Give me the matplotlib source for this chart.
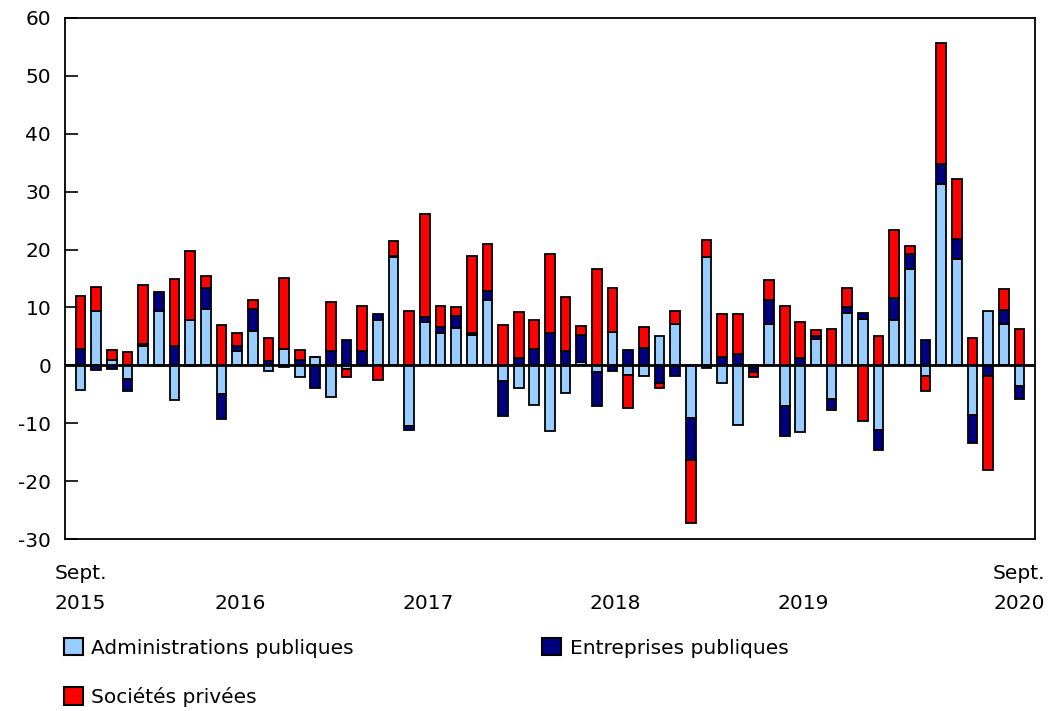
import numpy as np
import matplotlib
matplotlib.use("Agg")
import matplotlib.pyplot as plt
from matplotlib.patches import Patch

# Valeurs mensuelles, sept. 2015 à sept. 2020
admin = [-4.3, 9.4, 1.0, -2.3, 3.3, 9.4, -6.0, 7.9, 9.7, -5.0,
         2.5, 6.0, -0.9, 2.9, -2.0, 1.5, -5.5, -0.7, 0.0, 7.9,
         18.7, -10.5, 7.4, 5.5, 6.4, 5.3, 11.3, -2.7, -3.9, -6.9,
         -11.3, -4.7, 0.5, -1.2, 5.8, -1.6, -1.8, 5.1, 7.2, -9.1,
         18.7, -3.1, -10.3, -0.4, 7.2, -7.0, -11.6, 4.5, -5.9, 9.1,
         8.0, -11.1, 7.8, 16.7, -1.9, 31.4, 18.3, -8.5, 9.3, 7.2,
         -3.6]
entreprises = [2.9, -0.8, -0.6, -2.2, 0.4, 3.2, 3.3, -0.2, 3.7, -4.3,
               0.9, 3.8, 0.7, -0.3, 1.0, -3.9, 2.4, 4.4, 2.4, 0.9,
               0.2, -0.7, 0.9, 1.1, 2.1, 0.3, 1.5, -6.0, 1.2, 2.9,
               5.5, 2.4, 4.8, -5.9, -1.0, 2.6, 3.0, -3.0, -1.8, -7.2,
               -0.5, 1.4, 2.0, -0.8, 4.0, -5.2, 1.2, 0.6, -1.9, 0.9,
               1.0, -3.6, 3.8, 2.6, 4.4, 3.3, 3.5, -4.9, -1.8, 2.3,
               -2.2]
privees = [9.0, 4.2, 1.6, 2.3, 10.1, -0.1, 11.6, 11.9, 2.0, 7.0,
           2.2, 1.4, 4.0, 12.2, 1.6, 0.0, 8.5, -1.4, 7.8, -2.6,
           2.5, 9.3, 17.9, 3.7, 1.5, 13.3, 8.2, 7.0, 8.0, 5.0,
           13.7, 9.4, 1.5, 16.7, 7.5, -5.7, 3.7, -1.0, 2.1, -10.9,
           2.9, 7.5, 6.9, -0.8, 3.5, 10.2, 6.3, 1.0, 6.3, 3.4,
           -9.7, 5.1, 11.7, 1.4, -2.6, 21.0, 10.4, 4.8, -16.3, 3.7,
           6.3]

series = [("Administrations publiques", admin, "#99ccff"),
          ("Entreprises publiques", entreprises, "#000080"),
          ("Sociétés privées", privees, "#ff0000")]

x_labels = ["Sept.\n2015", "\n2016", "\n2017", "\n2018", "\n2019", "Sept.\n2020"]
x_label_pos = [0, 10.2, 22.2, 34.2, 46.2, 60]

plt.rcParams["font.family"] = "DejaVu Sans"
plt.rcParams["axes.unicode_minus"] = False

fig = plt.figure(figsize=(10.48, 7.11), dpi=100)
ax = fig.add_axes([0.062, 0.2419, 0.9256, 0.7328])

x = np.arange(len(admin))
pos_base = np.zeros(len(x))
neg_base = np.zeros(len(x))
for name, vals, color in series:
    v = np.array(vals)
    bottom = np.where(v >= 0, pos_base, neg_base)
    ax.bar(x, v, bottom=bottom, width=0.62, color=color,
           edgecolor="black", linewidth=1.3)
    pos_base += np.where(v >= 0, v, 0)
    neg_base += np.where(v < 0, v, 0)

ax.axhline(0, color="black", linewidth=2)

ax.set_xlim(-1, 61)
ax.set_ylim(-30, 60)
ax.set_yticks(range(-30, 61, 10))
ax.tick_params(axis="y", direction="in", length=9, width=1.2,
               labelsize=14.5, pad=10)
ax.set_xticks(x_label_pos)
ax.set_xticklabels(x_labels, fontsize=14.5, linespacing=1.75)
ax.tick_params(axis="x", length=0, pad=18)
for s in ax.spines.values():
    s.set_linewidth(1.3)

# ordre pour que la légende se lise ligne par ligne
order = [0, 2, 1]
handles = [Patch(facecolor=series[i][2], edgecolor="black", linewidth=1.5)
           for i in order]
labels = [series[i][0] for i in order]
fig.legend(handles, labels, loc="upper left",
           bbox_to_anchor=(0.044, 0.128), ncol=2, frameon=False,
           fontsize=14.5, handlelength=0.95, handleheight=0.95,
           handletextpad=0.4, columnspacing=9.35, labelspacing=1.45)

fig.savefig("out.png", dpi=100)
